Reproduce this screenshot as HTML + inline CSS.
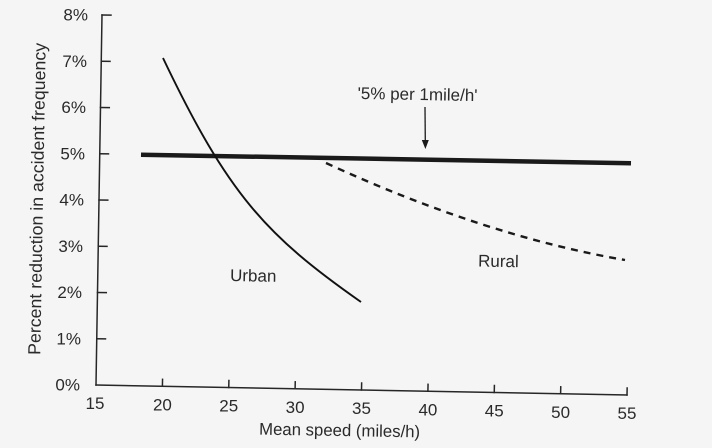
<!DOCTYPE html>
<html>
<head>
<meta charset="utf-8">
<style>
  html, body { margin:0; padding:0; background:#f5f5f5; }
  svg { display:block; }
  text { font-family: "Liberation Sans", "DejaVu Sans", sans-serif; fill:#2a2a2a; }
</style>
</head>
<body>
<svg width="712" height="448" viewBox="0 0 712 448" xmlns="http://www.w3.org/2000/svg">
  <rect x="0" y="0" width="712" height="448" fill="#f5f5f5"/>

  <!-- Axes -->
  <g stroke="#262626" stroke-width="1.5" fill="none" stroke-linecap="square">
    <line x1="102" y1="15" x2="96" y2="385"/>
    <line x1="96" y1="385" x2="627" y2="395"/>
    <!-- y ticks -->
    <line x1="96.75" y1="338.75" x2="105.5" y2="338.9"/>
    <line x1="97.5" y1="292.5" x2="106.3" y2="292.65"/>
    <line x1="98.25" y1="246.25" x2="107" y2="246.4"/>
    <line x1="99" y1="200" x2="107.8" y2="200.15"/>
    <line x1="99.75" y1="153.75" x2="108.5" y2="153.9"/>
    <line x1="100.5" y1="107.5" x2="109.3" y2="107.65"/>
    <line x1="101.25" y1="61.25" x2="110" y2="61.4"/>
    <line x1="102" y1="15" x2="111" y2="15.15"/>
    <!-- x ticks -->
    <line x1="162.4" y1="386.25" x2="162.55" y2="379.3"/>
    <line x1="228.75" y1="387.5" x2="228.9" y2="380.5"/>
    <line x1="295.1" y1="388.75" x2="295.25" y2="381.8"/>
    <line x1="361.5" y1="390" x2="361.65" y2="383"/>
    <line x1="427.9" y1="391.25" x2="428.05" y2="384.3"/>
    <line x1="494.25" y1="392.5" x2="494.4" y2="385.5"/>
    <line x1="560.6" y1="393.75" x2="560.75" y2="386.8"/>
    <line x1="627" y1="395" x2="627.15" y2="388"/>
  </g>

  <!-- Y tick labels -->
  <g font-size="17" text-anchor="end">
    <text x="80" y="390.5">0%</text>
    <text x="81" y="344.3">1%</text>
    <text x="82" y="298">2%</text>
    <text x="83" y="251.8">3%</text>
    <text x="84" y="205.5">4%</text>
    <text x="85" y="159.3">5%</text>
    <text x="86" y="113">6%</text>
    <text x="87" y="66.8">7%</text>
    <text x="88" y="20.5">8%</text>
  </g>

  <!-- X tick labels -->
  <g font-size="17" text-anchor="middle">
    <text x="95" y="409">15</text>
    <text x="162.4" y="410.3">20</text>
    <text x="228.75" y="411.5">25</text>
    <text x="295.1" y="412.8">30</text>
    <text x="361.5" y="414">35</text>
    <text x="427.9" y="415.3">40</text>
    <text x="494.25" y="416.5">45</text>
    <text x="560.6" y="417.8">50</text>
    <text x="627" y="419">55</text>
  </g>

  <!-- Axis titles -->
  <text x="339.5" y="436" font-size="17" text-anchor="middle" textLength="161" lengthAdjust="spacingAndGlyphs" transform="rotate(1 339.5 436)">Mean speed (miles/h)</text>
  <text transform="translate(43 199) rotate(-89)" font-size="17.5" text-anchor="middle" textLength="312" lengthAdjust="spacingAndGlyphs">Percent reduction in accident frequency</text>

  <!-- Thick 5% line -->
  <line x1="141" y1="154.7" x2="631" y2="163.3" stroke="#1a1a1a" stroke-width="4.5"/>

  <!-- Urban curve -->
  <path d="M163,58 C228,194.5 266,235.5 361,302" fill="none" stroke="#111" stroke-width="1.9"/>

  <!-- Rural dashed curve -->
  <path d="M326,163 Q485,236 625,260" fill="none" stroke="#1a1a1a" stroke-width="2.4" stroke-dasharray="7 6"/>

  <!-- Annotation -->
  <text x="417.5" y="100" font-size="17" text-anchor="middle" transform="rotate(1 417.5 100)">'5% per 1mile/h'</text>
  <line x1="425" y1="107" x2="425.3" y2="142" stroke="#1a1a1a" stroke-width="1.3"/>
  <polygon points="421.8,140 428.8,140 425.4,149" fill="#1a1a1a"/>

  <!-- Series labels -->
  <text x="230" y="281" font-size="17" transform="rotate(1 230 281)">Urban</text>
  <text x="478" y="266.5" font-size="17" transform="rotate(1 478 266.5)">Rural</text>
</svg>
</body>
</html>
